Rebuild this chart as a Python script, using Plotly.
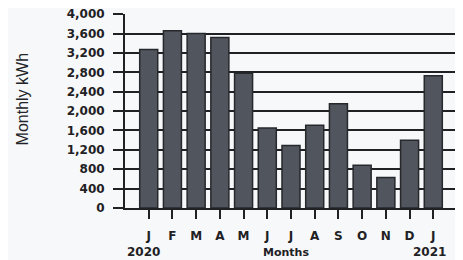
import plotly.graph_objects as go

months = ["J", "F", "M", "A", "M", "J", "J", "A", "S", "O", "N", "D", "J"]
kwh = [3270, 3660, 3600, 3520, 2780, 1650, 1290, 1710, 2150, 880, 630, 1400, 2730]
year_labels = ["2020", "2021"]
y_ticks = [0, 400, 800, 1200, 1600, 2000, 2400, 2800, 3200, 3600, 4000]

x = list(range(len(months)))

fig = go.Figure()
fig.add_trace(go.Bar(
    x=x, y=kwh,
    marker=dict(color="#51555d", line=dict(color="#26282c", width=1.5)),
    width=0.76,
    hoverinfo="skip",
))

ink = "#1f2124"
# page body has an 8px default margin, so the figure is sized to fit the window
fig.update_layout(
    width=455, height=252,
    margin=dict(l=117, r=6, t=6, b=52, autoexpand=False),
    paper_bgcolor="#f6f8fa",
    plot_bgcolor="#f6f8fa",
    showlegend=False,
    font=dict(family="DejaVu Sans", color=ink),
)
fig.update_xaxes(
    range=[-1, 13],
    tickmode="array", tickvals=x, ticktext=[f"<b>{m}</b>" for m in months],
    ticks="outside", ticklen=9, tickwidth=2, tickcolor=ink,
    ticklabelstandoff=7,
    tickfont=dict(size=12, family="DejaVu Sans", color=ink),
    showgrid=False, zeroline=False,
    showline=True, linecolor=ink, linewidth=2,
    automargin=False,
    fixedrange=True,
)
fig.update_yaxes(
    range=[0, 4004],
    tickmode="array", tickvals=y_ticks,
    ticktext=[f"<b>{v:,}</b>" for v in y_ticks],
    ticks="outside", ticklen=10, tickwidth=2, tickcolor=ink,
    ticklabelstandoff=6, ticklabeloverflow="allow",
    tickfont=dict(size=12, family="DejaVu Sans", color=ink),
    showgrid=True, gridcolor=ink, gridwidth=2,
    zeroline=False,
    showline=True, linecolor=ink, linewidth=2,
    automargin=False,
    fixedrange=True,
)

fig.add_annotation(text="Monthly kWh", textangle=-90, xref="paper", yref="paper",
                   x=-0.31, y=0.56, showarrow=False, xanchor="center", yanchor="middle",
                   font=dict(family="Liberation Sans", size=16, color="#222427"))
fig.add_annotation(text=f"<b>{year_labels[0]}</b>", xref="x", yref="paper", x=-0.2, y=-0.225,
                   showarrow=False, yanchor="middle", font=dict(size=12, color=ink))
fig.add_annotation(text=f"<b>{year_labels[1]}</b>", xref="x", yref="paper", x=11.85, y=-0.225,
                   showarrow=False, yanchor="middle", font=dict(size=12, color=ink))
fig.add_annotation(text="<b>Months</b>", xref="x", yref="paper", x=5.8, y=-0.231,
                   showarrow=False, yanchor="middle", font=dict(size=11, color=ink))

fig.write_html("out.html")
